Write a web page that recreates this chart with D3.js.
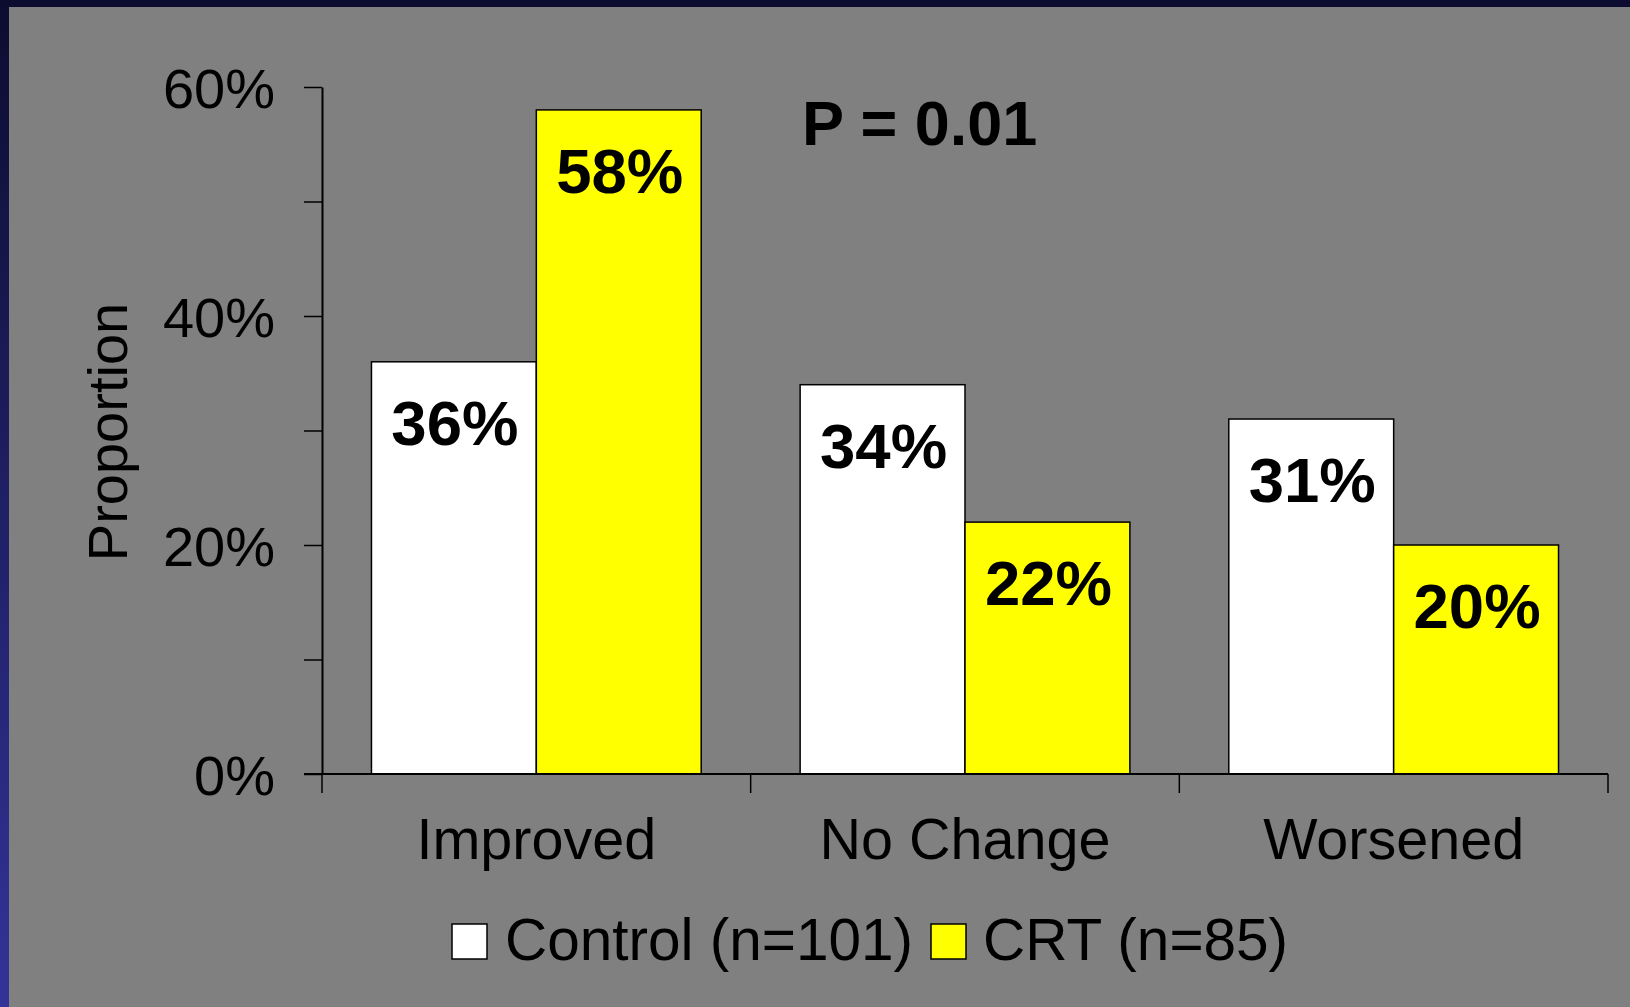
<!DOCTYPE html>
<html>
<head>
<meta charset="utf-8">
<script src="https://cdn.jsdelivr.net/npm/d3@7"></script>
<style>
  html, body { margin: 0; padding: 0; background: #808080; }
  svg { display: block; }
  text { font-family: "Liberation Sans", Arial, sans-serif; fill: #000; }
</style>
</head>
<body>
<svg id="chart" width="1630" height="1007"></svg>
<script>
// Outcome categories and the two study arms
const categories = ["Improved", "No Change", "Worsened"];
const seriesNames = ["Control (n=101)", "CRT (n=85)"];
const controlValues = [0.36, 0.34, 0.31];
const crtValues = [0.58, 0.22, 0.20];
const yTicks = [0, 0.1, 0.2, 0.3, 0.4, 0.5, 0.6];
const yLabelTicks = [0, 0.2, 0.4, 0.6];
const seriesColors = ["#ffffff", "#ffff00"];
const pValueText = "P = 0.01";
const yTitle = "Proportion";

const svg = d3.select("#chart");
const W = 1630, H = 1007;

// Slide-style frame: grey field with a dark top strip and a blue left strip
const defs = svg.append("defs");
const grad = defs.append("linearGradient")
  .attr("id", "leftStrip").attr("x1", 0).attr("y1", 0).attr("x2", 0).attr("y2", 1);
grad.append("stop").attr("offset", "0%").attr("stop-color", "#0c0c30");
grad.append("stop").attr("offset", "100%").attr("stop-color", "#333399");

svg.append("rect").attr("width", W).attr("height", H).attr("fill", "#808080");
svg.append("rect").attr("x", 0).attr("y", 0).attr("width", W).attr("height", 7).attr("fill", "#0c0c30");
svg.append("rect").attr("x", 0).attr("y", 0).attr("width", 9).attr("height", H).attr("fill", "url(#leftStrip)");

const plot = { left: 322, right: 1608, top: 87, bottom: 774 };

const x0 = d3.scaleBand().domain(categories).range([plot.left, plot.right]).padding(0);
const x1 = d3.scaleBand().domain(seriesNames).range([0, x0.bandwidth()])
  .paddingInner(0).paddingOuter(0.3);
const y = d3.scaleLinear().domain([0, 0.6]).range([plot.bottom, plot.top]);

// Y axis
const yAxis = d3.axisLeft(y)
  .tickValues(yTicks)
  .tickSize(18)
  .tickSizeOuter(0)
  .tickPadding(29)
  .tickFormat(d => yLabelTicks.some(t => Math.abs(t - d) < 1e-9) ? d3.format(".0%")(d) : "");
const yG = svg.append("g").attr("transform", `translate(${plot.left},0)`).call(yAxis);
yG.select(".domain").attr("stroke", "#000").attr("stroke-width", 2);
yG.selectAll(".tick line").attr("stroke", "#000").attr("stroke-width", 1.5);
yG.selectAll(".tick text")
  .attr("font-family", "Liberation Sans, Arial, sans-serif")
  .attr("font-size", 56).attr("fill", "#000").attr("dy", "0.36em");

// Bars
const groups = svg.append("g").selectAll("g")
  .data(categories)
  .join("g")
  .attr("transform", d => `translate(${x0(d)},0)`);

const barData = (c, i) => seriesNames.map((s, k) => ({
  series: s, k, value: (k === 0 ? controlValues : crtValues)[i]
}));

groups.selectAll("rect")
  .data((c, i) => barData(c, i))
  .join("rect")
  .attr("x", d => x1(d.series))
  .attr("y", d => y(d.value))
  .attr("width", x1.bandwidth())
  .attr("height", d => y(0) - y(d.value))
  .attr("fill", d => seriesColors[d.k])
  .attr("stroke", "#000")
  .attr("stroke-width", 1.5);

groups.selectAll("text.val")
  .data((c, i) => barData(c, i))
  .join("text")
  .attr("class", "val")
  .attr("x", d => x1(d.series) + x1.bandwidth() / 2 + 1)
  .attr("y", d => y(d.value) + 83)
  .attr("text-anchor", "middle")
  .attr("font-weight", "bold")
  .attr("font-size", 63.5)
  .text(d => d3.format(".0%")(d.value));

// X axis baseline and category separators
svg.append("line")
  .attr("x1", plot.left - 18).attr("x2", plot.right)
  .attr("y1", y(0)).attr("y2", y(0))
  .attr("stroke", "#000").attr("stroke-width", 2);

const sepX = categories.map(c => x0(c)).concat([plot.right]);
svg.append("g").selectAll("line")
  .data(sepX)
  .join("line")
  .attr("x1", d => d).attr("x2", d => d)
  .attr("y1", y(0)).attr("y2", y(0) + 19)
  .attr("stroke", "#000").attr("stroke-width", 1.5);

svg.append("g").selectAll("text")
  .data(categories)
  .join("text")
  .attr("x", d => x0(d) + x0.bandwidth() / 2)
  .attr("y", 859)
  .attr("text-anchor", "middle")
  .attr("font-size", 57.5)
  .text(d => d);

// Y title
svg.append("text")
  .attr("transform", "translate(127,432) rotate(-90)")
  .attr("text-anchor", "middle")
  .attr("font-size", 56)
  .text(yTitle);

// Significance annotation
svg.append("text")
  .attr("x", 802).attr("y", 145)
  .attr("font-weight", "bold")
  .attr("font-size", 63)
  .text(pValueText);

// Legend
const legendItems = [
  { name: seriesNames[0], color: seriesColors[0], sx: 452, tx: 505 },
  { name: seriesNames[1], color: seriesColors[1], sx: 931, tx: 983 }
];
const lg = svg.append("g");
lg.selectAll("rect")
  .data(legendItems)
  .join("rect")
  .attr("x", d => d.sx).attr("y", 924)
  .attr("width", 35).attr("height", 35)
  .attr("fill", d => d.color)
  .attr("stroke", "#000").attr("stroke-width", 1.5);
lg.selectAll("text")
  .data(legendItems)
  .join("text")
  .attr("x", d => d.tx).attr("y", 960)
  .attr("font-size", 58.5)
  .text(d => d.name);
</script>
</body>
</html>
